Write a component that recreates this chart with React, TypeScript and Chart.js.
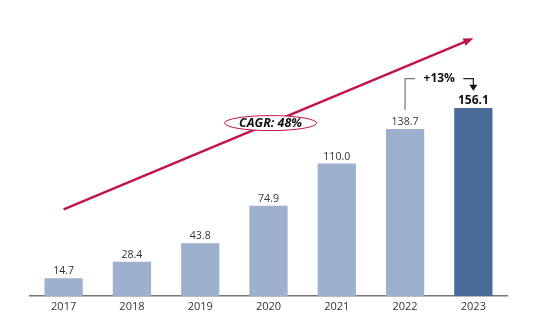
import React, { useEffect, useRef } from 'react';
import { Chart, registerables } from 'chart.js';

Chart.register(...registerables);

const years = ['2017', '2018', '2019', '2020', '2021', '2022', '2023'];
const values = [14.7, 28.4, 43.8, 74.9, 110.0, 138.7, 156.1];
const valueLabels = ['14.7', '28.4', '43.8', '74.9', '110.0', '138.7', '156.1'];
const highlightYear = '2023';
const cagrLabel = 'CAGR: 48%';
const growthLabel = '+13%';
// trend arrow in data units: [category index, value]
const trendStart = [0, 72];
const trendEnd = [6, 214];
const cagrBadge = [3.03, 143.6];
// growth bracket levels (data units)
const bracketTop = 180.5;
const bracketLeftBottom = 154.4;
const bracketArrowTip = 170.5;

const LIGHT = '#9DB0CE';
const DARK = '#4A6A98';
const RED = '#C2134B';
const FONT = '"Open Sans", "DejaVu Sans", sans-serif';

const overlay = {
  id: 'overlay',
  afterDatasetsDraw(chart: any) {
    const ctx = chart.ctx as CanvasRenderingContext2D;
    const xs = chart.scales.x;
    const ys = chart.scales.y;
    const meta = chart.getDatasetMeta(0);
    ctx.save();

    // value labels
    meta.data.forEach((bar: any, i: number) => {
      const bold = years[i] === highlightYear;
      ctx.font = bold ? `bold 12px ${FONT}` : `10.6px ${FONT}`;
      ctx.fillStyle = bold ? '#111' : '#333';
      ctx.textAlign = 'center';
      ctx.textBaseline = 'alphabetic';
      ctx.fillText(valueLabels[i], bar.x, bar.y - 4);
    });

    // CAGR trend arrow
    const x0 = xs.getPixelForValue(trendStart[0]);
    const y0 = ys.getPixelForValue(trendStart[1]);
    const x1 = xs.getPixelForValue(trendEnd[0]);
    const y1 = ys.getPixelForValue(trendEnd[1]);
    const ang = Math.atan2(y1 - y0, x1 - x0);
    const headLen = 10;
    const headW = 4;
    ctx.strokeStyle = RED;
    ctx.fillStyle = RED;
    ctx.lineWidth = 2.4;
    ctx.beginPath();
    ctx.moveTo(x0, y0);
    ctx.lineTo(x1 - Math.cos(ang) * headLen * 0.8, y1 - Math.sin(ang) * headLen * 0.8);
    ctx.stroke();
    ctx.beginPath();
    ctx.moveTo(x1, y1);
    ctx.lineTo(
      x1 - Math.cos(ang) * headLen + Math.sin(ang) * headW,
      y1 - Math.sin(ang) * headLen - Math.cos(ang) * headW
    );
    ctx.lineTo(
      x1 - Math.cos(ang) * headLen - Math.sin(ang) * headW,
      y1 - Math.sin(ang) * headLen + Math.cos(ang) * headW
    );
    ctx.closePath();
    ctx.fill();

    // CAGR badge
    const cx = xs.getPixelForValue(cagrBadge[0]);
    const cy = ys.getPixelForValue(cagrBadge[1]);
    ctx.beginPath();
    ctx.ellipse(cx, cy, 46, 7.5, 0, 0, Math.PI * 2);
    ctx.fillStyle = '#fff';
    ctx.fill();
    ctx.lineWidth = 1;
    ctx.strokeStyle = RED;
    ctx.stroke();
    ctx.fillStyle = '#111';
    ctx.font = `italic bold 12.5px ${FONT}`;
    ctx.textAlign = 'center';
    ctx.textBaseline = 'middle';
    ctx.fillText(cagrLabel, cx, cy + 0.5);

    // growth bracket
    const bl = xs.getPixelForValue(5);
    const br = xs.getPixelForValue(6);
    const by = ys.getPixelForValue(bracketTop);
    const bLeftBottom = ys.getPixelForValue(bracketLeftBottom);
    const tipY = ys.getPixelForValue(bracketArrowTip);
    ctx.lineWidth = 1.2;
    ctx.strokeStyle = '#777';
    ctx.beginPath();
    ctx.moveTo(bl, bLeftBottom);
    ctx.lineTo(bl, by);
    ctx.lineTo(bl + 10, by);
    ctx.stroke();
    ctx.strokeStyle = '#222';
    ctx.beginPath();
    ctx.moveTo(br - 10, by);
    ctx.lineTo(br, by);
    ctx.lineTo(br, tipY - 5);
    ctx.stroke();
    ctx.fillStyle = '#111';
    ctx.beginPath();
    ctx.moveTo(br, tipY);
    ctx.lineTo(br - 4, tipY - 6);
    ctx.lineTo(br + 4, tipY - 6);
    ctx.closePath();
    ctx.fill();
    ctx.font = `bold 12px ${FONT}`;
    ctx.textAlign = 'center';
    ctx.textBaseline = 'middle';
    ctx.fillText(growthLabel, (bl + br) / 2, by);

    ctx.restore();
  },
};

export default function App() {
  const ref = useRef<HTMLCanvasElement>(null);
  useEffect(() => {
    if (!ref.current) return;
    const chart = new Chart(ref.current, {
      type: 'bar',
      data: {
        labels: years,
        datasets: [
          {
            data: values,
            backgroundColor: years.map((y) => (y === highlightYear ? DARK : LIGHT)),
            categoryPercentage: 1,
            barPercentage: 0.56,
          },
        ],
      },
      options: {
        responsive: false,
        animation: false,
        layout: { padding: { left: 29.5, right: 30.5, top: 20, bottom: 0 } },
        plugins: { legend: { display: false }, tooltip: { enabled: false } },
        scales: {
          x: {
            grid: { display: false, drawTicks: false },
            border: { display: true, color: '#777', width: 1.5 },
            ticks: { color: '#333', font: { family: FONT, size: 11 }, padding: 4 },
            afterFit: (s: any) => {
              s.height = 35;
            },
          },
          y: { display: false, min: 0, max: 229.2 },
        },
      },
      plugins: [overlay],
    });
    return () => chart.destroy();
  }, []);
  return (
    <div style={{ position: 'absolute', left: 0, top: 0, width: 538, height: 331, background: '#fff' }}>
      <canvas ref={ref} width={538} height={331} style={{ width: 538, height: 331 }} />
    </div>
  );
}
